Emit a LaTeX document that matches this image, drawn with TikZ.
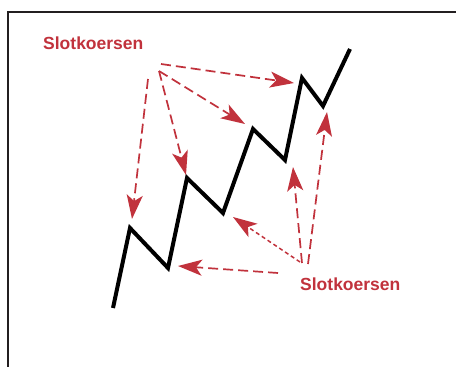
\documentclass[tikz,border=0pt]{standalone}
\usepackage{fontspec}
\setmainfont{Liberation Sans}
\usetikzlibrary{arrows.meta}
\definecolor{kred}{RGB}{193,50,60}
\definecolor{frame}{RGB}{35,31,32}
\tikzset{
  lbl/.style={text=kred, font=\fontsize{17.5}{20}\selectfont\bfseries, inner sep=0pt},
  darr/.style={draw=kred, line width=1.7pt, dash pattern=on 10pt off 5pt,
    -{Stealth[length=24pt,width=16pt,inset=6pt]}},
  farr/.style={darr, line width=1.5pt, dash pattern=on 4pt off 3pt},
  zig/.style={draw=black, line width=4pt, line join=miter}
}
\begin{document}
\begin{tikzpicture}[x=1pt,y=-1pt]
\useasboundingbox (0,0) rectangle (456,367);
\fill[white] (0,0) rectangle (456,367);
\draw[frame, line width=2pt] (8,368) -- (8,12) -- (457,12);
% zigzag
\coordinate (z0) at (113,308);
\coordinate (p1) at (130,228);
\coordinate (v1) at (168,268);
\coordinate (p2) at (187,178);
\coordinate (v2) at (223,213);
\coordinate (p3) at (253,129);
\coordinate (v3) at (285,160);
\coordinate (p4) at (302,78);
\coordinate (v4) at (323,106);
\coordinate (z1) at (350,49);
\draw[zig] (z0) -- (p1) -- (v1) -- (p2) -- (v2) -- (p3) -- (v3) -- (p4) -- (v4) -- (z1);
% labels
\node[lbl, anchor=west] (top) at (43,43) {Slotkoersen};
\node[lbl, anchor=west] (bot) at (300,284) {Slotkoersen};
% top arrows
\coordinate (a1) at (161,64);
\coordinate (a2) at (159,71);
\coordinate (a3) at (148,79);
\coordinate (t4) at (294,83);
\coordinate (t3) at (245,124);
\coordinate (t2) at (186,175);
\coordinate (t1) at (132,219);
\draw[darr] (a1) -- (t4);
\draw[darr] (a2) -- (t3);
\draw[darr] (a2) -- (t2);
\draw[darr] (a3) -- (t1);
% bottom arrows
\coordinate (b1) at (278,273);
\coordinate (b2) at (300,262);
\coordinate (b3) at (302,263);
\coordinate (b4) at (308,264);
\coordinate (u1) at (178,266);
\coordinate (u2) at (233,217);
\coordinate (u3) at (293,167);
\coordinate (u4) at (327,112);
\draw[darr] (b1) -- (u1);
\draw[farr] (b2) -- (u2);
\draw[darr] (b3) -- (u3);
\draw[darr] (b4) -- (u4);
\end{tikzpicture}
\end{document}
